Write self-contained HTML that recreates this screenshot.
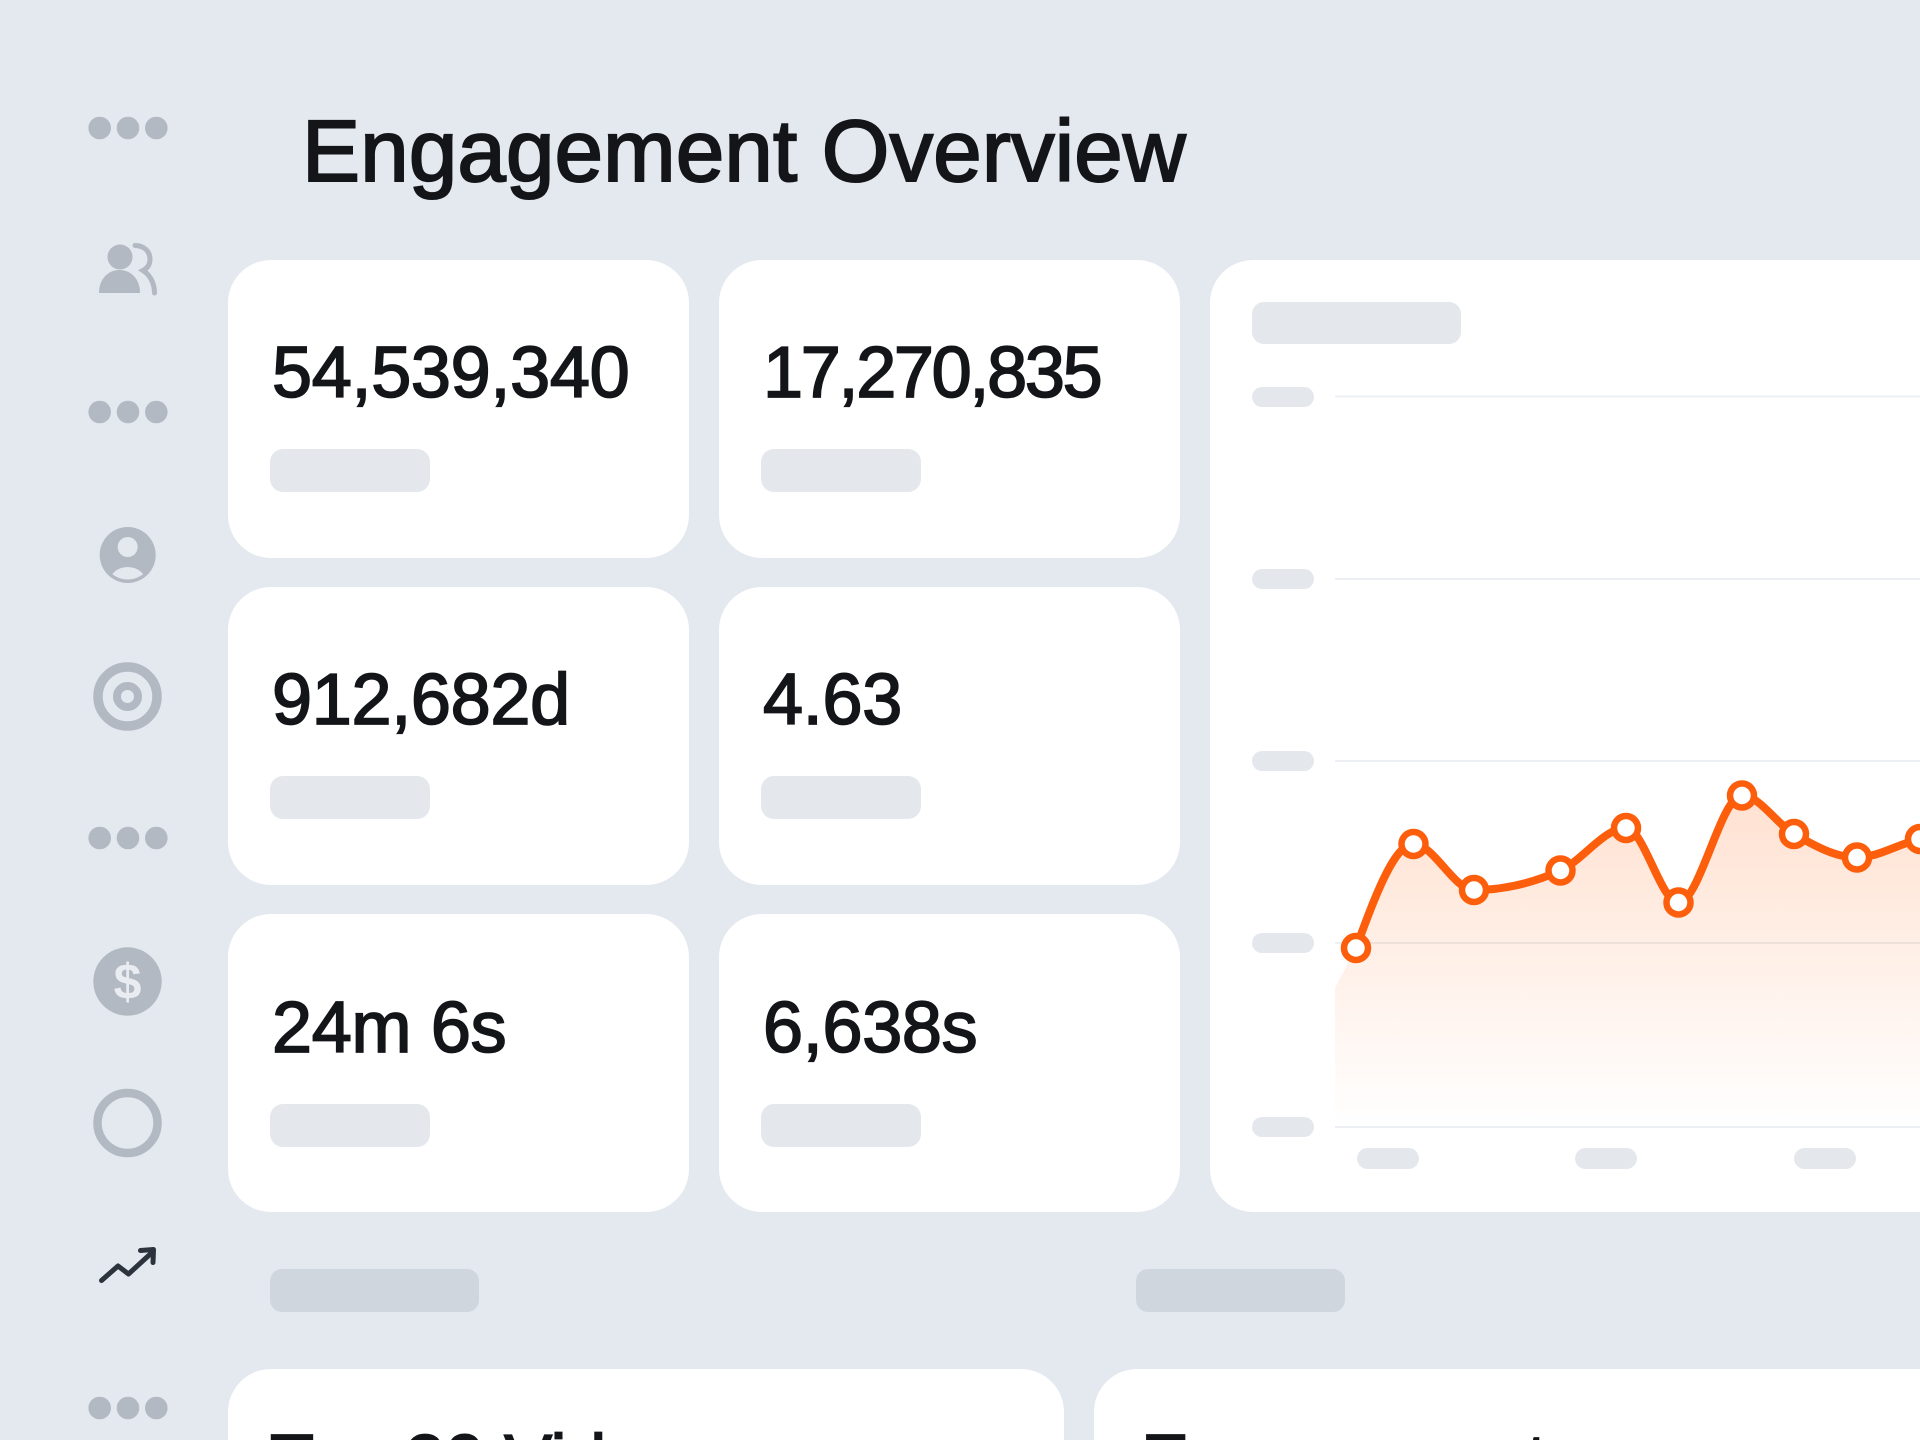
<!DOCTYPE html>
<html>
<head>
<meta charset="utf-8">
<style>
  html, body { margin:0; padding:0; width:1920px; height:1440px; overflow:hidden; }
  body { background:#e4e8ef; font-family:"Liberation Sans", Arial, sans-serif; color:#131519; }
  #root { position:relative; width:1920px; height:1440px; overflow:hidden; background:#e4e8ef; }
  .card { position:absolute; background:#ffffff; border-radius:43px; }
  .num { position:absolute; font-size:72px; line-height:72px; white-space:nowrap;
         -webkit-text-stroke:1.7px #131519; letter-spacing:-0.3px; }
  .bar { position:absolute; width:160px; height:43px; border-radius:13px; background:#e4e8ed; }
  .title { position:absolute; left:302px; top:108px; font-size:87px; line-height:87px; white-space:nowrap;
           -webkit-text-stroke:2px #131519; letter-spacing:0.2px; }
  .hbar { position:absolute; height:43px; border-radius:12px; background:#d0d6de; }
  svg.ov { position:absolute; left:0; top:0; }
</style>
</head>
<body>
<div id="root">

<div class="title">Engagement Overview</div>

<!-- KPI cards -->
<div class="card" style="left:228px;top:260px;width:461px;height:298px;"></div>
<div class="card" style="left:719px;top:260px;width:461px;height:298px;"></div>
<div class="card" style="left:228px;top:587px;width:461px;height:298px;"></div>
<div class="card" style="left:719px;top:587px;width:461px;height:298px;"></div>
<div class="card" style="left:228px;top:914px;width:461px;height:298px;"></div>
<div class="card" style="left:719px;top:914px;width:461px;height:298px;"></div>

<div class="num" style="left:272px;top:337px;">54,539,340</div>
<div class="num" style="left:763px;top:337px;letter-spacing:-2.3px;">17,270,835</div>
<div class="num" style="left:272px;top:664px;">912,682d</div>
<div class="num" style="left:763px;top:664px;">4.63</div>
<div class="num" style="left:272px;top:992px;">24m 6s</div>
<div class="num" style="left:763px;top:992px;">6,638s</div>

<div class="bar" style="left:270px;top:449px;"></div>
<div class="bar" style="left:761px;top:449px;"></div>
<div class="bar" style="left:270px;top:776px;"></div>
<div class="bar" style="left:761px;top:776px;"></div>
<div class="bar" style="left:270px;top:1104px;"></div>
<div class="bar" style="left:761px;top:1104px;"></div>

<!-- Chart card -->
<div class="card" style="left:1210px;top:260px;width:760px;height:952px;"></div>

<!-- section header placeholders -->
<div class="hbar" style="left:270px;top:1269px;width:209px;"></div>
<div class="hbar" style="left:1136px;top:1269px;width:209px;"></div>

<!-- bottom cards -->
<div class="card" style="left:228px;top:1369px;width:836px;height:71px;border-bottom-left-radius:0;border-bottom-right-radius:0;"></div>
<div class="card" style="left:1094px;top:1369px;width:826px;height:71px;border-bottom-left-radius:0;border-bottom-right-radius:0;border-top-right-radius:0;"></div>
<div class="num" style="left:270px;top:1425px;">Top 20 Videos</div>
<div class="num" style="left:1141px;top:1425px;">Engagement score</div>

<svg class="ov" width="1920" height="1440" viewBox="0 0 1920 1440" xmlns="http://www.w3.org/2000/svg">
  <defs>
    <linearGradient id="ag" x1="0" y1="795" x2="0" y2="1127" gradientUnits="userSpaceOnUse">
      <stop offset="0" stop-color="#ff6a1a" stop-opacity="0.2"/>
      <stop offset="1" stop-color="#ff6a1a" stop-opacity="0"/>
    </linearGradient>
    <clipPath id="uc"><circle cx="127.7" cy="555" r="24.5"/></clipPath>
  </defs>

  <!-- Sidebar icons -->
  <g fill="#b3b9c2">
    <circle cx="99.7" cy="128" r="11.3"/><circle cx="128" cy="128" r="11.3"/><circle cx="156.3" cy="128" r="11.3"/>
    <circle cx="99.7" cy="412" r="11.3"/><circle cx="128" cy="412" r="11.3"/><circle cx="156.3" cy="412" r="11.3"/>
    <circle cx="99.7" cy="838" r="11.3"/><circle cx="128" cy="838" r="11.3"/><circle cx="156.3" cy="838" r="11.3"/>
    <circle cx="99.7" cy="1408" r="11.3"/><circle cx="128" cy="1408" r="11.3"/><circle cx="156.3" cy="1408" r="11.3"/>
  </g>
  <!-- people -->
  <g fill="#b3b9c2">
    <circle cx="120" cy="257" r="12.5"/>
    <path d="M99,293 C99,279 108,270 119.5,270 C131,270 140,279 140,293 Z"/>
  </g>
  <path d="M135,245.5 C144,245.5 150,251.5 150,259 C150,265 147,268.5 143,270.5 C150,275 154.5,283 154.5,293"
        fill="none" stroke="#b3b9c2" stroke-width="5" stroke-linecap="round"/>
  <!-- user circle -->
  <circle cx="127.7" cy="555" r="28" fill="#b3b9c2"/>
  <circle cx="127.7" cy="547" r="10" fill="#e4e8ef"/>
  <ellipse cx="127.7" cy="584" rx="19" ry="17" fill="#e4e8ef" clip-path="url(#uc)"/>
  <!-- target -->
  <circle cx="127.5" cy="696.5" r="29.5" fill="none" stroke="#b3b9c2" stroke-width="9.5"/>
  <circle cx="127.5" cy="696.5" r="10.5" fill="none" stroke="#b3b9c2" stroke-width="8"/>
  <!-- dollar -->
  <circle cx="127.5" cy="981.5" r="34.2" fill="#b3b9c2"/>
  <text x="127.5" y="999" text-anchor="middle" font-family="Liberation Sans, Arial, sans-serif" font-weight="bold" font-size="50" fill="#e9ecf1">$</text>
  <!-- ring -->
  <circle cx="127.5" cy="1123" r="30" fill="none" stroke="#b3b9c2" stroke-width="8.5"/>
  <!-- trend -->
  <g fill="none" stroke="#2c333c" stroke-width="5" stroke-linecap="round" stroke-linejoin="round">
    <polyline points="101.5,1280.5 118,1266 128.5,1274 152,1252.5"/>
    <polyline points="140.5,1250.5 153.5,1249.5 153,1262.5"/>
  </g>

  <!-- Chart internals -->
  <rect x="1252" y="302" width="209" height="42" rx="12" fill="#e4e8ed"/>
  <g fill="#e4e8ed">
    <rect x="1252" y="387" width="62" height="20" rx="10"/>
    <rect x="1252" y="569" width="62" height="20" rx="10"/>
    <rect x="1252" y="751" width="62" height="20" rx="10"/>
    <rect x="1252" y="933" width="62" height="20" rx="10"/>
    <rect x="1252" y="1117" width="62" height="20" rx="10"/>
    <rect x="1357" y="1148" width="62" height="21" rx="10.5"/>
    <rect x="1575" y="1148" width="62" height="21" rx="10.5"/>
    <rect x="1794" y="1148" width="62" height="21" rx="10.5"/>
  </g>
  <g stroke="#eceff3" stroke-width="2">
    <line x1="1335" y1="396.5" x2="1920" y2="396.5"/>
    <line x1="1335" y1="579" x2="1920" y2="579"/>
    <line x1="1335" y1="761" x2="1920" y2="761"/>
    <line x1="1335" y1="943" x2="1920" y2="943"/>
    <line x1="1335" y1="1127" x2="1920" y2="1127"/>
  </g>

  <path d="M1335,1127 L1335,988 L1356,948 C1375.17,896 1394.33,844 1413.5,844 C1433.67,844 1453.83,890 1474,890 C1502.83,890 1531.67,883.5 1560.5,870.5 C1582.33,860.66 1604.17,828 1626,828 C1643.5,828 1661,902.5 1678.5,902.5 C1699.67,902.5 1720.83,795.5 1742,795.5 C1759.33,795.5 1776.67,824.05 1794,834 C1815,846.06 1836,857.5 1857,857.5 C1878,857.5 1899,843.58 1920,839 C1941,834.42 1962,832.2 1983,830 L1983,1127 Z"
        fill="url(#ag)"/>
  <path d="M1356,948 C1375.17,896 1394.33,844 1413.5,844 C1433.67,844 1453.83,890 1474,890 C1502.83,890 1531.67,883.5 1560.5,870.5 C1582.33,860.66 1604.17,828 1626,828 C1643.5,828 1661,902.5 1678.5,902.5 C1699.67,902.5 1720.83,795.5 1742,795.5 C1759.33,795.5 1776.67,824.05 1794,834 C1815,846.06 1836,857.5 1857,857.5 C1878,857.5 1899,843.58 1920,839 C1941,834.42 1962,832.2 1983,830"
        fill="none" stroke="#fd5e0c" stroke-width="8" stroke-linecap="round" stroke-linejoin="round"/>
  <g fill="#ffffff" stroke="#fd5e0c" stroke-width="6.5">
    <circle cx="1356" cy="948" r="12"/>
    <circle cx="1413.5" cy="844" r="12"/>
    <circle cx="1474" cy="890" r="12"/>
    <circle cx="1560.5" cy="870.5" r="12"/>
    <circle cx="1626" cy="828" r="12"/>
    <circle cx="1678.5" cy="902.5" r="12"/>
    <circle cx="1742" cy="795.5" r="12"/>
    <circle cx="1794" cy="834" r="12"/>
    <circle cx="1857" cy="857.5" r="12"/>
    <circle cx="1920" cy="839" r="12"/>
  </g>
</svg>

</div>
</body>
</html>
